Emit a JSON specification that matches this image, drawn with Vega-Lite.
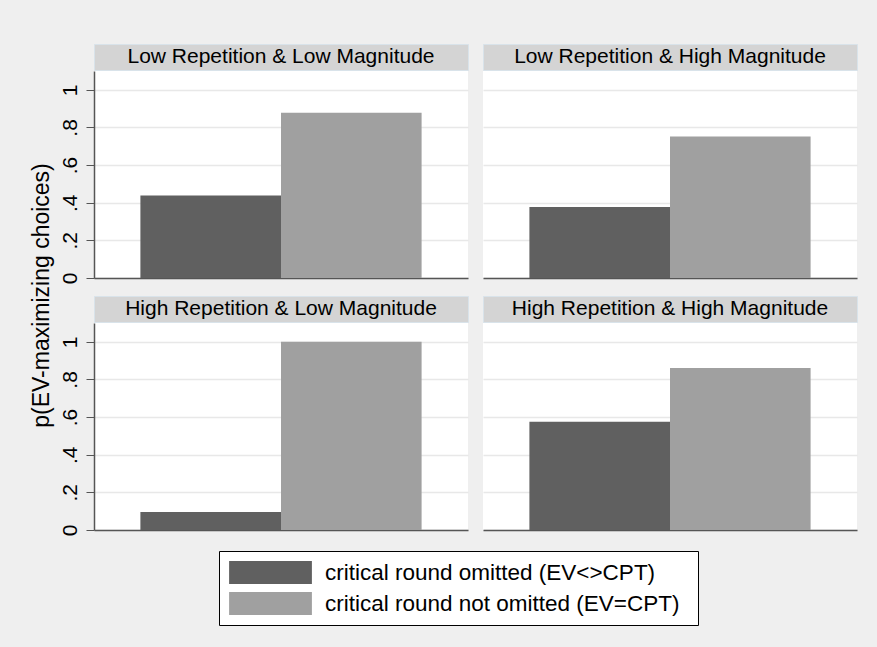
{
  "$schema": "https://vega.github.io/schema/vega-lite/v6.json",
  "background": "#efefef",
  "padding": {"left": 30, "top": 43, "right": 25, "bottom": 30},
  "title": {"text": "p(EV-maximizing choices)", "orient": "left", "anchor": "middle", "fontSize": 23, "fontWeight": "normal", "font": "Liberation Sans", "color": "black", "offset": 5, "dx": 39},
  "datasets": {
    "bars": [
      {"panel": "Low Repetition & Low Magnitude", "cond": "critical round omitted (EV<>CPT)", "p": 0.438},
      {"panel": "Low Repetition & Low Magnitude", "cond": "critical round not omitted (EV=CPT)", "p": 0.878},
      {"panel": "Low Repetition & High Magnitude", "cond": "critical round omitted (EV<>CPT)", "p": 0.377},
      {"panel": "Low Repetition & High Magnitude", "cond": "critical round not omitted (EV=CPT)", "p": 0.752},
      {"panel": "High Repetition & Low Magnitude", "cond": "critical round omitted (EV<>CPT)", "p": 0.095},
      {"panel": "High Repetition & Low Magnitude", "cond": "critical round not omitted (EV=CPT)", "p": 1.0},
      {"panel": "High Repetition & High Magnitude", "cond": "critical round omitted (EV<>CPT)", "p": 0.575},
      {"panel": "High Repetition & High Magnitude", "cond": "critical round not omitted (EV=CPT)", "p": 0.861}
    ],
    "strips": [
      {"panel": "Low Repetition & Low Magnitude"},
      {"panel": "Low Repetition & High Magnitude"},
      {"panel": "High Repetition & Low Magnitude"},
      {"panel": "High Repetition & High Magnitude"}
    ]
  },
  "spacing": 11,
  "vconcat": [
    {
      "spacing": 13,
      "hconcat": [
        {
          "spacing": 0,
          "vconcat": [
            {"width": 374, "height": 26, "view": {"fill": "#d4d4d4", "stroke": "#d9e3ea"}, "data": {"name": "strips"}, "transform": [{"filter": "datum.panel === 'Low Repetition & Low Magnitude'"}], "mark": {"type": "text", "fontSize": 21, "font": "Liberation Sans", "color": "black", "baseline": "middle", "align": "center"}, "encoding": {"text": {"field": "panel"}}},
            {"width": 374, "height": 207, "view": {"fill": "white", "stroke": null}, "data": {"name": "bars"}, "transform": [{"filter": "datum.panel === 'Low Repetition & Low Magnitude'"}], "mark": {"type": "bar"},
             "encoding": {
               "x": {"field": "cond", "type": "nominal", "sort": ["critical round omitted (EV<>CPT)", "critical round not omitted (EV=CPT)"], "scale": {"paddingInner": 0, "paddingOuter": 0.33}, "axis": {"labels": false, "ticks": false, "title": null, "domainColor": "#555555", "domainWidth": 1.5, "grid": false}},
               "y": {"field": "p", "type": "quantitative", "scale": {"domain": [0, 1.1], "nice": false}, "axis": {"title": null, "values": [0, 0.2, 0.4, 0.6, 0.8, 1], "labelExpr": "datum.value == 0 ? '0' : datum.value == 1 ? '1' : substring(format(datum.value, '.1f'), 1)", "labelAngle": -90, "labelFontSize": 21, "labelFont": "Liberation Sans", "labelColor": "black", "labelPadding": 6, "tickSize": 8, "tickColor": "#555555", "domainColor": "#555555", "domainWidth": 1.5, "gridColor": "#e8e8e8", "gridWidth": 1.5}},
               "color": {"field": "cond", "type": "nominal", "sort": ["critical round omitted (EV<>CPT)", "critical round not omitted (EV=CPT)"], "scale": {"domain": ["critical round omitted (EV<>CPT)", "critical round not omitted (EV=CPT)"], "range": ["#606060", "#a0a0a0"]},
                 "legend": {"orient": "none", "legendX": 125, "legendY": 507, "title": "\u00a0", "titleOrient": "right", "titlePadding": 8, "titleFontSize": 22, "direction": "vertical", "fillColor": "white", "strokeColor": "black", "padding": 10, "symbolType": "M-3.6,-1L3.6,-1L3.6,1L-3.6,1Z", "symbolSize": 529, "symbolOffset": 30, "symbolStrokeWidth": 0, "symbolOpacity": 1, "labelFontSize": 22.5, "labelFont": "Liberation Sans", "labelColor": "black", "labelOffset": 43, "rowPadding": 8, "labelLimit": 0}}
             }}
          ]
        },
        {
          "spacing": 0,
          "vconcat": [
            {"width": 374, "height": 26, "view": {"fill": "#d4d4d4", "stroke": "#d9e3ea"}, "data": {"name": "strips"}, "transform": [{"filter": "datum.panel === 'Low Repetition & High Magnitude'"}], "mark": {"type": "text", "fontSize": 21, "font": "Liberation Sans", "color": "black", "baseline": "middle", "align": "center"}, "encoding": {"text": {"field": "panel"}}},
            {"width": 374, "height": 207, "view": {"fill": "white", "stroke": null}, "data": {"name": "bars"}, "transform": [{"filter": "datum.panel === 'Low Repetition & High Magnitude'"}], "mark": {"type": "bar"},
             "encoding": {
               "x": {"field": "cond", "type": "nominal", "sort": ["critical round omitted (EV<>CPT)", "critical round not omitted (EV=CPT)"], "scale": {"paddingInner": 0, "paddingOuter": 0.33}, "axis": {"labels": false, "ticks": false, "title": null, "domainColor": "#555555", "domainWidth": 1.5, "grid": false}},
               "y": {"field": "p", "type": "quantitative", "scale": {"domain": [0, 1.1], "nice": false}, "axis": {"title": null, "values": [0, 0.2, 0.4, 0.6, 0.8, 1], "labels": false, "ticks": false, "domain": false, "gridColor": "#e8e8e8", "gridWidth": 1.5}},
               "color": {"field": "cond", "type": "nominal", "sort": ["critical round omitted (EV<>CPT)", "critical round not omitted (EV=CPT)"], "scale": {"domain": ["critical round omitted (EV<>CPT)", "critical round not omitted (EV=CPT)"], "range": ["#606060", "#a0a0a0"]},
                 "legend": {"orient": "none", "legendX": 125, "legendY": 507, "title": "\u00a0", "titleOrient": "right", "titlePadding": 8, "titleFontSize": 22, "direction": "vertical", "fillColor": "white", "strokeColor": "black", "padding": 10, "symbolType": "M-3.6,-1L3.6,-1L3.6,1L-3.6,1Z", "symbolSize": 529, "symbolOffset": 30, "symbolStrokeWidth": 0, "symbolOpacity": 1, "labelFontSize": 22.5, "labelFont": "Liberation Sans", "labelColor": "black", "labelOffset": 43, "rowPadding": 8, "labelLimit": 0}}
             }}
          ]
        }
      ]
    },
    {
      "spacing": 13,
      "hconcat": [
        {
          "spacing": 0,
          "vconcat": [
            {"width": 374, "height": 26, "view": {"fill": "#d4d4d4", "stroke": "#d9e3ea"}, "data": {"name": "strips"}, "transform": [{"filter": "datum.panel === 'High Repetition & Low Magnitude'"}], "mark": {"type": "text", "fontSize": 21, "font": "Liberation Sans", "color": "black", "baseline": "middle", "align": "center"}, "encoding": {"text": {"field": "panel"}}},
            {"width": 374, "height": 207, "view": {"fill": "white", "stroke": null}, "data": {"name": "bars"}, "transform": [{"filter": "datum.panel === 'High Repetition & Low Magnitude'"}], "mark": {"type": "bar"},
             "encoding": {
               "x": {"field": "cond", "type": "nominal", "sort": ["critical round omitted (EV<>CPT)", "critical round not omitted (EV=CPT)"], "scale": {"paddingInner": 0, "paddingOuter": 0.33}, "axis": {"labels": false, "ticks": false, "title": null, "domainColor": "#555555", "domainWidth": 1.5, "grid": false}},
               "y": {"field": "p", "type": "quantitative", "scale": {"domain": [0, 1.1], "nice": false}, "axis": {"title": null, "values": [0, 0.2, 0.4, 0.6, 0.8, 1], "labelExpr": "datum.value == 0 ? '0' : datum.value == 1 ? '1' : substring(format(datum.value, '.1f'), 1)", "labelAngle": -90, "labelFontSize": 21, "labelFont": "Liberation Sans", "labelColor": "black", "labelPadding": 6, "tickSize": 8, "tickColor": "#555555", "domainColor": "#555555", "domainWidth": 1.5, "gridColor": "#e8e8e8", "gridWidth": 1.5}},
               "color": {"field": "cond", "type": "nominal", "sort": ["critical round omitted (EV<>CPT)", "critical round not omitted (EV=CPT)"], "scale": {"domain": ["critical round omitted (EV<>CPT)", "critical round not omitted (EV=CPT)"], "range": ["#606060", "#a0a0a0"]},
                 "legend": {"orient": "none", "legendX": 125, "legendY": 507, "title": "\u00a0", "titleOrient": "right", "titlePadding": 8, "titleFontSize": 22, "direction": "vertical", "fillColor": "white", "strokeColor": "black", "padding": 10, "symbolType": "M-3.6,-1L3.6,-1L3.6,1L-3.6,1Z", "symbolSize": 529, "symbolOffset": 30, "symbolStrokeWidth": 0, "symbolOpacity": 1, "labelFontSize": 22.5, "labelFont": "Liberation Sans", "labelColor": "black", "labelOffset": 43, "rowPadding": 8, "labelLimit": 0}}
             }}
          ]
        },
        {
          "spacing": 0,
          "vconcat": [
            {"width": 374, "height": 26, "view": {"fill": "#d4d4d4", "stroke": "#d9e3ea"}, "data": {"name": "strips"}, "transform": [{"filter": "datum.panel === 'High Repetition & High Magnitude'"}], "mark": {"type": "text", "fontSize": 21, "font": "Liberation Sans", "color": "black", "baseline": "middle", "align": "center"}, "encoding": {"text": {"field": "panel"}}},
            {"width": 374, "height": 207, "view": {"fill": "white", "stroke": null}, "data": {"name": "bars"}, "transform": [{"filter": "datum.panel === 'High Repetition & High Magnitude'"}], "mark": {"type": "bar"},
             "encoding": {
               "x": {"field": "cond", "type": "nominal", "sort": ["critical round omitted (EV<>CPT)", "critical round not omitted (EV=CPT)"], "scale": {"paddingInner": 0, "paddingOuter": 0.33}, "axis": {"labels": false, "ticks": false, "title": null, "domainColor": "#555555", "domainWidth": 1.5, "grid": false}},
               "y": {"field": "p", "type": "quantitative", "scale": {"domain": [0, 1.1], "nice": false}, "axis": {"title": null, "values": [0, 0.2, 0.4, 0.6, 0.8, 1], "labels": false, "ticks": false, "domain": false, "gridColor": "#e8e8e8", "gridWidth": 1.5}},
               "color": {"field": "cond", "type": "nominal", "sort": ["critical round omitted (EV<>CPT)", "critical round not omitted (EV=CPT)"], "scale": {"domain": ["critical round omitted (EV<>CPT)", "critical round not omitted (EV=CPT)"], "range": ["#606060", "#a0a0a0"]},
                 "legend": {"orient": "none", "legendX": 125, "legendY": 507, "title": "\u00a0", "titleOrient": "right", "titlePadding": 8, "titleFontSize": 22, "direction": "vertical", "fillColor": "white", "strokeColor": "black", "padding": 10, "symbolType": "M-3.6,-1L3.6,-1L3.6,1L-3.6,1Z", "symbolSize": 529, "symbolOffset": 30, "symbolStrokeWidth": 0, "symbolOpacity": 1, "labelFontSize": 22.5, "labelFont": "Liberation Sans", "labelColor": "black", "labelOffset": 43, "rowPadding": 8, "labelLimit": 0}}
             }}
          ]
        }
      ]
    }
  ]
}
